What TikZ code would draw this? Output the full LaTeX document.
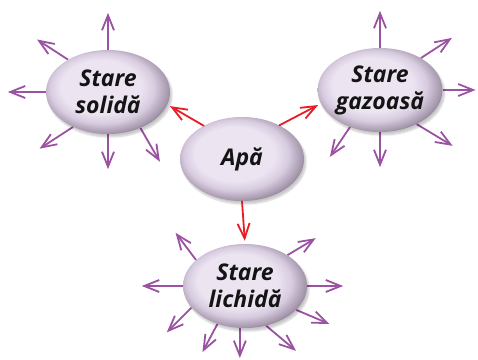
\documentclass[tikz,border=0pt]{standalone}
\usepackage{fontspec}
\setsansfont{Open Sans}
\usetikzlibrary{shapes.geometric,arrows.meta,backgrounds,shadows.blur}

\definecolor{lavlight}{RGB}{236,229,241}
\definecolor{lavmid}{RGB}{216,204,224}
\definecolor{lavdark}{RGB}{104,88,110}
\definecolor{raycol}{RGB}{155,82,162}
\definecolor{linkcol}{RGB}{232,28,36}

\pgfdeclareradialshading{lavball}{\pgfpoint{-5bp}{5bp}}{%
  color(0bp)=(lavlight); color(16bp)=(lavlight); color(21bp)=(lavmid);
  color(26bp)=(lavdark!45!lavmid); color(30bp)=(lavdark); color(40bp)=(lavdark)}

\tikzset{
  state/.style={ellipse, shade, shading=lavball, minimum width=124pt, minimum height=84pt,
    inner sep=0pt, align=center, text=black!92,
    font=\sffamily\bfseries\itshape\fontsize{23}{27}\selectfont,
    blur shadow={shadow xshift=2pt, shadow yshift=-3pt, shadow opacity=22, shadow blur steps=6}},
  ray/.style={raycol, line width=1.8pt, -{Straight Barb[length=15pt,width=12pt]}},
  link/.style={linkcol, line width=1.8pt, -{Straight Barb[length=15pt,width=12pt]}, shorten >=3pt}
}

\begin{document}
\begin{tikzpicture}[x=1pt, y=1pt, line cap=round, line join=round]
  \useasboundingbox (0,0) rectangle (478,359);
  \node[state] (apa)   at (242,200) {Apă};
  \node[state] (solid) at (108,267) {Stare\\solidă};
  \node[state] (gas)   at (380,269) {Stare\\gazoasă};
  \node[state] (liq)   at (245,73)  {Stare\\lichidă};
  % red links from water
  \draw[link] (apa.139) -- (solid.348);
  \draw[link] (apa.42) -- (gas.193);
  \draw[link] (apa.south) -- (liq.north);
  % purple rays
  \begin{scope}[on background layer]
    \foreach \a/\d/\l in {90/90/37, 141/147/37, 180/180/38, 225/213/40, 270/270/35, 312/300/39} {
      \path (solid.\a) ++(\d:\l) coordinate (solid-tip-\a);
      \draw[ray] (solid.\a) -- (solid-tip-\a);
    }
    \foreach \a/\d/\l in {90/90/37, 38/33/37, 0/0/33, 317/329/42, 270/270/35, 231/236/36} {
      \path (gas.\a) ++(\d:\l) coordinate (gas-tip-\a);
      \draw[ray] (gas.\a) -- (gas-tip-\a);
    }
    \foreach \a/\d/\l in {152/127/34, 36/31/33, 180/180/41, 0/0/36, 335/337/36, 298/320/39, 263/270/30, 234/242/32, 202/225/35} {
      \path (liq.\a) ++(\d:\l) coordinate (liq-tip-\a);
      \draw[ray] (liq.\a) -- (liq-tip-\a);
    }
  \end{scope}
\end{tikzpicture}
\end{document}
